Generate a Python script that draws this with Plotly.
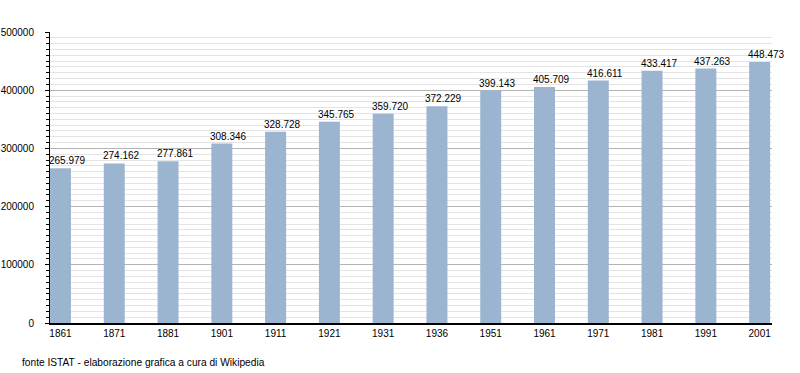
import plotly.graph_objects as go

years = ["1861", "1871", "1881", "1901", "1911", "1921", "1931", "1936",
         "1951", "1961", "1971", "1981", "1991", "2001"]
population = [265979, 274162, 277861, 308346, 328728, 345765, 359720, 372229,
              399143, 405709, 416611, 433417, 437263, 448473]
labels = [f"{v:,}".replace(",", ".") for v in population]
y_ticks = [0, 100000, 200000, 300000, 400000, 500000]

xpos = list(range(len(years)))

fig = go.Figure(go.Bar(
    x=xpos, y=population,
    marker=dict(color="#9bb4cf", line=dict(width=0)),
    width=0.39, hoverinfo="skip",
))

for xi, yi, lab in zip(xpos, population, labels):
    fig.add_annotation(
        x=xi, y=yi, text=lab, showarrow=False,
        xanchor="center", yanchor="bottom", xshift=7, yshift=0,
        font=dict(size=10, color="#000000"),
    )

fig.update_layout(
    width=800, height=373,
    margin=dict(l=50, r=28, t=32, b=50),
    paper_bgcolor="white", plot_bgcolor="white",
    showlegend=False,
    font=dict(family="Liberation Sans, Arial, sans-serif", size=10, color="#000000"),
    xaxis=dict(
        tickmode="array", tickvals=xpos, ticktext=years,
        range=[-0.195, 13.23], showgrid=False, zeroline=False,
        showline=True, linecolor="#000000", linewidth=1.5,
        ticks="", tickfont=dict(size=10), automargin=False,
    ),
    yaxis=dict(
        range=[0, 500000], tickmode="array", tickvals=y_ticks,
        ticktext=[str(v) for v in y_ticks],
        showgrid=True, gridcolor="#b4b4b4", gridwidth=1,
        zeroline=False, showline=True, linecolor="#000000", linewidth=1,
        ticks="outside", ticklen=4, tickcolor="#000000",
        tickfont=dict(size=10), automargin=False, ticklabelstandoff=9,
        minor=dict(dtick=10000, showgrid=True, gridcolor="#e4e4e4",
                   ticks="outside", ticklen=3, tickcolor="#000000"),
    ),
)

fig.add_annotation(
    text="fonte ISTAT - elaborazione grafica a cura di Wikipedia",
    xref="paper", yref="paper", x=-0.0416, y=-0.137,
    xanchor="left", yanchor="middle", showarrow=False,
    font=dict(size=10.2, color="#000000"),
)

fig.write_html("out.html", config={"displayModeBar": False},
               post_script="document.body.style.margin='0';")
